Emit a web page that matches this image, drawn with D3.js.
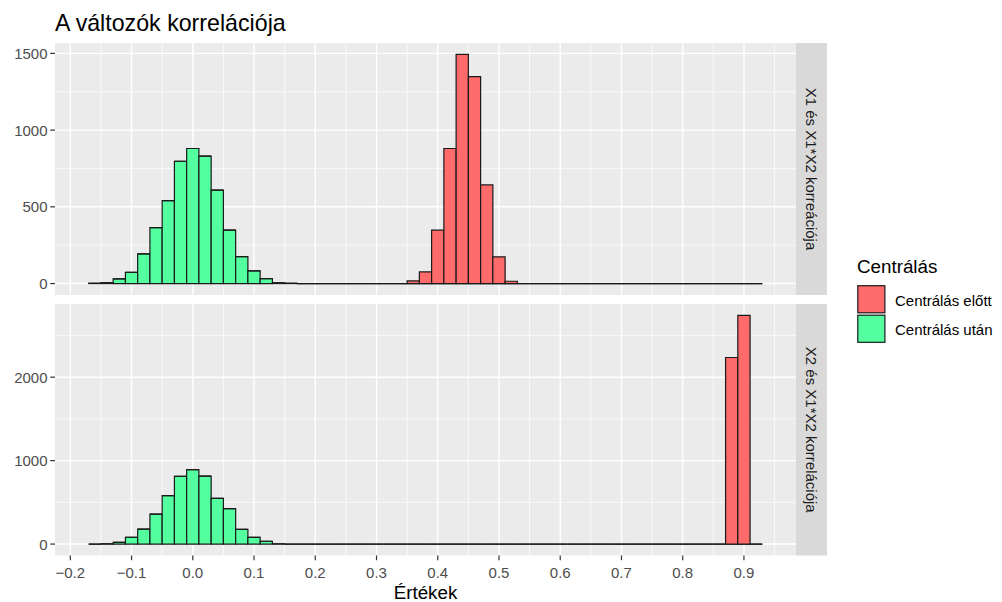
<!DOCTYPE html>
<html>
<head>
<meta charset="utf-8">
<script src="https://cdn.jsdelivr.net/npm/d3@7"></script>
<style>
  html, body { margin: 0; padding: 0; background: #ffffff; }
  svg { display: block; font-family: "Liberation Sans", Arial, sans-serif; }
</style>
</head>
<body>
<svg id="chart" width="1002" height="602"></svg>
<script>
// Histogram settings shared by both facets
const binWidth = 0.02;
const binRange = [-0.17, 0.93];

const groups = ["Centrálás előtt", "Centrálás után"];
const groupColors = ["#FF6A6A", "#54FF9F"];

const facetLabels = ["X1 és X1*X2 korreációja", "X2 és X1*X2 korrelációja"];

// Facet 1: non-empty bins (left edge) and counts
const topBeforeBins   = [0.35, 0.37, 0.39, 0.41, 0.43, 0.45, 0.47, 0.49, 0.51];
const topBeforeCounts = [17, 76, 348, 880, 1493, 1348, 643, 174, 15];
const topAfterBins    = [-0.17, -0.15, -0.13, -0.11, -0.09, -0.07, -0.05, -0.03, -0.01, 0.01, 0.03, 0.05, 0.07, 0.09, 0.11, 0.13, 0.15];
const topAfterCounts  = [2, 5, 31, 73, 193, 364, 541, 797, 880, 830, 609, 348, 176, 82, 32, 5, 2];

// Facet 2
const bottomBeforeBins   = [0.87, 0.89];
const bottomBeforeCounts = [2236, 2740];
const bottomAfterBins    = [-0.15, -0.13, -0.11, -0.09, -0.07, -0.05, -0.03, -0.01, 0.01, 0.03, 0.05, 0.07, 0.09, 0.11, 0.13];
const bottomAfterCounts  = [3, 20, 82, 180, 360, 580, 812, 892, 814, 548, 424, 176, 80, 34, 2];

const xTicks = [-0.2, -0.1, 0.0, 0.1, 0.2, 0.3, 0.4, 0.5, 0.6, 0.7, 0.8, 0.9];
const topYTicks = [0, 500, 1000, 1500];
const bottomYTicks = [0, 1000, 2000];

const xTitle = "Értékek";
const chartTitle = "A változók korrelációja";
const legendTitle = "Centrálás";

// ---------- helpers ----------
const nBins = Math.round((binRange[1] - binRange[0]) / binWidth);
const allEdges = d3.range(nBins).map(i => +(binRange[0] + i * binWidth).toFixed(2));

function fullCounts(bins, counts) {
  const m = new Map(bins.map((b, i) => [b.toFixed(2), counts[i]]));
  return allEdges.map(e => m.get(e.toFixed(2)) || 0);
}

const facets = [
  { label: facetLabels[0], yTicks: topYTicks,
    series: [fullCounts(topBeforeBins, topBeforeCounts), fullCounts(topAfterBins, topAfterCounts)] },
  { label: facetLabels[1], yTicks: bottomYTicks,
    series: [fullCounts(bottomBeforeBins, bottomBeforeCounts), fullCounts(bottomAfterBins, bottomAfterCounts)] }
];

// ---------- layout ----------
const svg = d3.select("#chart");
const panelLeft = 55, panelRight = 796;
const panelTops = [43, 304], panelBottoms = [295, 555.5];
const stripW = 31;

const span = binRange[1] - binRange[0];
const x = d3.scaleLinear()
  .domain([binRange[0] - 0.05 * span, binRange[1] + 0.05 * span])
  .range([panelLeft, panelRight]);

const minorX = d3.range(-0.15, 0.96, 0.1).map(v => +v.toFixed(2));

const outline = "#1a1a1a";

// Title
svg.append("text")
  .attr("x", panelLeft).attr("y", 31)
  .attr("font-size", 23.2).attr("fill", "#000")
  .text(chartTitle);

facets.forEach((f, fi) => {
  const top = panelTops[fi], bottom = panelBottoms[fi];
  // stacked totals per bin
  const stacked = allEdges.map((e, i) => f.series[0][i] + f.series[1][i]);
  const yMax = d3.max(stacked);
  const y = d3.scaleLinear()
    .domain([-0.05 * yMax, 1.05 * yMax])
    .range([bottom, top]);

  const g = svg.append("g");

  // panel background
  g.append("rect")
    .attr("x", panelLeft).attr("y", top)
    .attr("width", panelRight - panelLeft).attr("height", bottom - top)
    .attr("fill", "#EBEBEB");

  // minor grid
  const minorY = f.yTicks.slice(0, -1).map((t, i) => (t + f.yTicks[i + 1]) / 2)
    .concat([f.yTicks[f.yTicks.length - 1] + (f.yTicks[1] - f.yTicks[0]) / 2])
    .filter(v => v < y.domain()[1]);
  g.selectAll(".minory").data(minorY).join("line")
    .attr("x1", panelLeft).attr("x2", panelRight)
    .attr("y1", d => y(d)).attr("y2", d => y(d))
    .attr("stroke", "#fff").attr("stroke-width", 0.7);
  g.selectAll(".minorx").data(minorX).join("line")
    .attr("x1", d => x(d)).attr("x2", d => x(d))
    .attr("y1", top).attr("y2", bottom)
    .attr("stroke", "#fff").attr("stroke-width", 0.7);

  // major grid
  g.selectAll(".majory").data(f.yTicks).join("line")
    .attr("x1", panelLeft).attr("x2", panelRight)
    .attr("y1", d => y(d)).attr("y2", d => y(d))
    .attr("stroke", "#fff").attr("stroke-width", 1.4);
  g.selectAll(".majorx").data(xTicks).join("line")
    .attr("x1", d => x(d)).attr("x2", d => x(d))
    .attr("y1", top).attr("y2", bottom)
    .attr("stroke", "#fff").attr("stroke-width", 1.4);

  // bars as closed paths so empty bins still show their outline on the baseline;
  // "után" sits at the bottom of the stack, "előtt" on top of it
  const drawOrder = [1, 0];
  drawOrder.forEach(si => {
    const below = si === 0 ? f.series[1] : allEdges.map(() => 0);
    g.append("g").selectAll("path").data(allEdges).join("path")
      .attr("d", (d, i) => {
        const x0 = x(d), x1 = x(d + binWidth);
        const y0 = y(below[i]), y1 = y(below[i] + f.series[si][i]);
        return `M${x0},${y0}H${x1}V${y1}H${x0}Z`;
      })
      .attr("fill", groupColors[si])
      .attr("stroke", outline)
      .attr("stroke-width", 1.2);
  });

  // y axis ticks + labels
  const ya = svg.append("g");
  ya.selectAll("line").data(f.yTicks).join("line")
    .attr("x1", panelLeft - 4.7).attr("x2", panelLeft)
    .attr("y1", d => y(d)).attr("y2", d => y(d))
    .attr("stroke", "#333").attr("stroke-width", 1.2);
  ya.selectAll("text").data(f.yTicks).join("text")
    .attr("x", panelLeft - 7.5).attr("y", d => y(d))
    .attr("text-anchor", "end").attr("dominant-baseline", "central")
    .attr("font-size", 15).attr("fill", "#4D4D4D")
    .text(d => d);

  // strip
  svg.append("rect")
    .attr("x", panelRight).attr("y", top)
    .attr("width", stripW).attr("height", bottom - top)
    .attr("fill", "#D9D9D9");
  svg.append("text")
    .attr("transform", `translate(${panelRight + stripW / 2},${(top + bottom) / 2}) rotate(90)`)
    .attr("text-anchor", "middle").attr("dominant-baseline", "central")
    .attr("font-size", 15).attr("fill", "#1A1A1A")
    .text(f.label);
});

// x axis on bottom panel
const xa = svg.append("g");
const xBase = panelBottoms[1];
xa.selectAll("line").data(xTicks).join("line")
  .attr("x1", d => x(d)).attr("x2", d => x(d))
  .attr("y1", xBase).attr("y2", xBase + 4.7)
  .attr("stroke", "#333").attr("stroke-width", 1.2);
xa.selectAll("text").data(xTicks).join("text")
  .attr("x", d => x(d)).attr("y", 578)
  .attr("text-anchor", "middle")
  .attr("font-size", 15).attr("fill", "#4D4D4D")
  .text(d => d3.format(".1f")(d));

svg.append("text")
  .attr("x", (panelLeft + panelRight) / 2).attr("y", 599)
  .attr("text-anchor", "middle")
  .attr("font-size", 18.8).attr("fill", "#000")
  .text(xTitle);

// legend
const lg = svg.append("g");
lg.append("text")
  .attr("x", 857).attr("y", 273)
  .attr("font-size", 18.8).attr("fill", "#000")
  .text(legendTitle);
const keySize = 29.5, keyTop = 284.5;
groups.forEach((name, i) => {
  const ky = keyTop + i * keySize;
  lg.append("rect")
    .attr("x", 857.8).attr("y", ky + 1.2)
    .attr("width", keySize - 2.4).attr("height", keySize - 2.4)
    .attr("fill", groupColors[i]).attr("stroke", outline).attr("stroke-width", 1.2);
  lg.append("text")
    .attr("x", 895).attr("y", ky + keySize / 2 + 1)
    .attr("dominant-baseline", "central")
    .attr("font-size", 15).attr("fill", "#000")
    .text(name);
});
</script>
</body>
</html>
